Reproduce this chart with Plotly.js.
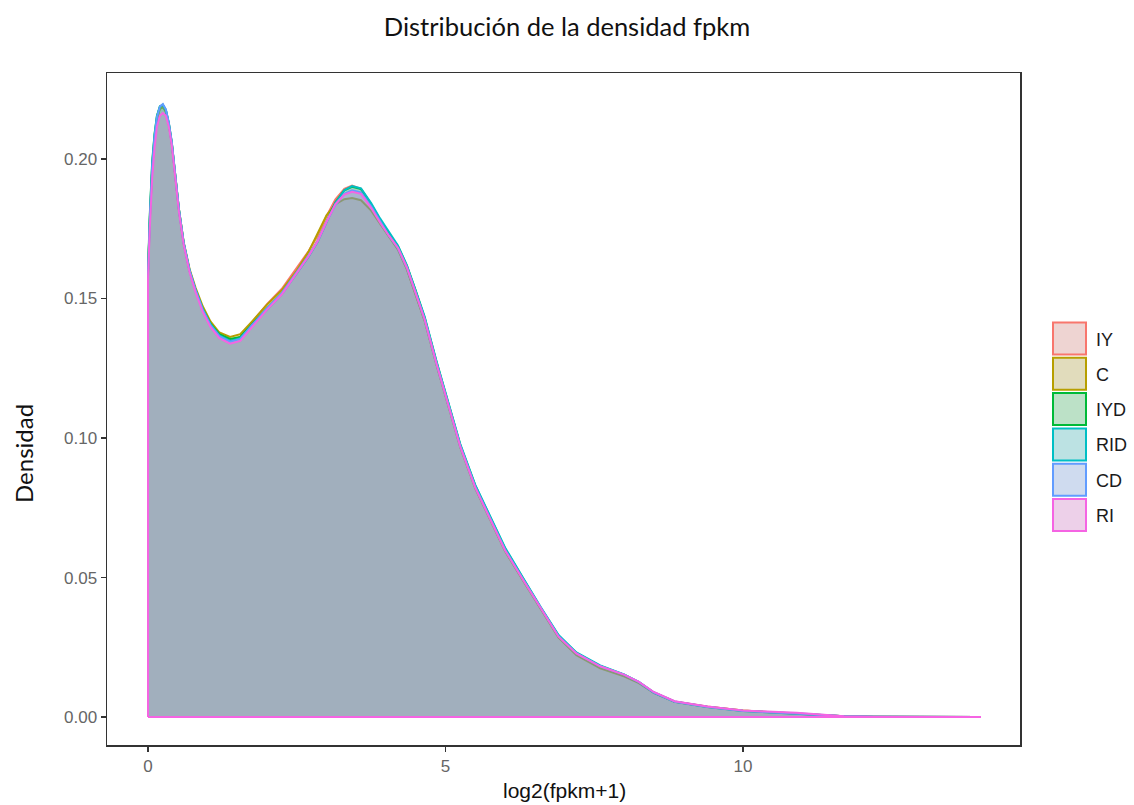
<!DOCTYPE html>
<html>
<head>
<meta charset="utf-8">
<script src="https://cdn.plot.ly/plotly-3.0.1.min.js"></script>
<style>
  html, body { margin: 0; padding: 0; background: #ffffff; }
  #chart { width: 1134px; height: 805px; }
</style>
</head>
<body>
<div id="chart"></div>
<script>
// Grid of log2(fpkm+1) values where each density curve is sampled
const xs = [0, 0.03, 0.07, 0.11, 0.15, 0.2, 0.25, 0.3, 0.35, 0.4, 0.46, 0.52, 0.6, 0.7, 0.8, 0.92,
  1.05, 1.2, 1.38, 1.55, 1.75, 2.0, 2.25, 2.5, 2.7, 2.85, 3.0, 3.15, 3.3, 3.43, 3.58, 3.75, 3.9,
  4.05, 4.2, 4.35, 4.5, 4.65, 4.85, 5.05, 5.25, 5.5, 5.75, 6.0, 6.3, 6.6, 6.9, 7.2, 7.6, 8.0,
  8.25, 8.5, 8.85, 9.4, 10.0, 10.5, 10.9, 11.3, 11.7, 12.2, 13.0, 14.0];

// Density of each sample
const densIY = [0.158,0.177,0.196,0.207,0.214,0.2182,0.219,0.2172,0.2125,0.2055,0.1945,0.1815,0.1695,0.1598,0.153,0.146,
  0.1407,0.1368,0.1348,0.1362,0.1415,0.148,0.1535,0.1608,0.167,0.1725,0.1795,0.1855,0.1893,0.1905,0.1893,0.1838,0.1778,
  0.1725,0.1678,0.1605,0.1515,0.142,0.1262,0.1112,0.0968,0.0822,0.0708,0.0598,0.0492,0.0388,0.0288,0.0226,0.0178,0.0148,
  0.0124,0.0088,0.0056,0.0038,0.0024,0.0017,0.0013,0.0007,0.0003,0.0001,0.00003,0];
const densC = [0.159,0.178,0.196,0.207,0.2145,0.218,0.2185,0.2168,0.2122,0.2055,0.1948,0.182,0.1702,0.1605,0.1538,0.1472,
  0.1418,0.1378,0.1362,0.1372,0.1418,0.1478,0.153,0.16,0.1668,0.1735,0.1798,0.1838,0.1856,0.186,0.1852,0.1815,0.1768,
  0.172,0.1675,0.1605,0.1515,0.142,0.1262,0.111,0.0965,0.082,0.0705,0.0595,0.049,0.0385,0.0285,0.0222,0.0175,0.0146,
  0.0122,0.0087,0.0055,0.0037,0.0024,0.0017,0.0013,0.0007,0.0003,0.0001,0.00003,0];
const densIYD = [0.160,0.180,0.199,0.209,0.2155,0.2188,0.2194,0.2175,0.2128,0.2058,0.1948,0.1818,0.1698,0.1598,0.153,0.1462,
  0.141,0.1372,0.1355,0.1362,0.1408,0.1465,0.1518,0.1592,0.1652,0.1705,0.1778,0.1845,0.1888,0.19,0.1892,0.1838,0.1782,
  0.1732,0.1688,0.1618,0.1528,0.1432,0.1272,0.112,0.0975,0.083,0.0715,0.0605,0.0498,0.0392,0.0292,0.023,0.0183,0.0152,
  0.0125,0.0088,0.0055,0.0036,0.0022,0.0016,0.0013,0.0007,0.0003,0.0001,0.00003,0];
const densRID = [0.159,0.179,0.198,0.2085,0.2152,0.2188,0.2194,0.2176,0.2129,0.2059,0.1949,0.1819,0.1699,0.1599,0.1531,0.1462,
  0.1408,0.1368,0.1348,0.1358,0.1405,0.1462,0.1516,0.159,0.165,0.1702,0.1775,0.1842,0.1888,0.1903,0.1895,0.1842,0.1787,
  0.1736,0.169,0.162,0.153,0.1434,0.1274,0.1122,0.0977,0.0832,0.0718,0.0608,0.05,0.0394,0.0294,0.0232,0.0185,0.0153,
  0.0125,0.0088,0.0055,0.0036,0.0022,0.0016,0.0013,0.0007,0.0003,0.0001,0.00003,0];
const densCD = [0.158,0.178,0.197,0.208,0.215,0.2188,0.2197,0.2178,0.213,0.206,0.195,0.182,0.170,0.160,0.153,0.146,
  0.1405,0.1365,0.1345,0.1355,0.1405,0.1465,0.152,0.1595,0.1655,0.1705,0.1775,0.1835,0.1875,0.1888,0.1880,0.1830,0.1775,
  0.1725,0.1680,0.1610,0.1520,0.1425,0.1265,0.1115,0.0970,0.0825,0.0710,0.0600,0.0495,0.0390,0.0290,0.0228,0.0182,0.0152,
  0.0126,0.0089,0.0056,0.0037,0.0023,0.0017,0.0014,0.0008,0.0003,0.0001,0.00003,0];
const densRI = [0.157,0.175,0.193,0.204,0.2115,0.2155,0.2165,0.2155,0.2115,0.2048,0.1938,0.181,0.1692,0.1592,0.1522,0.1452,
  0.1398,0.1358,0.1338,0.1348,0.1398,0.146,0.1515,0.159,0.1652,0.1705,0.1775,0.1838,0.1872,0.1882,0.1875,0.1825,0.1772,
  0.1725,0.1682,0.1612,0.1522,0.1425,0.1265,0.1113,0.0968,0.0822,0.0708,0.0598,0.0493,0.0388,0.0288,0.0228,0.0182,0.0152,
  0.0126,0.009,0.0057,0.0038,0.0024,0.0019,0.0016,0.0009,0.0003,0.0001,0.00003,0];

const sampleNames = ['IY', 'C', 'IYD', 'RID', 'CD', 'RI'];
const sampleDens = [densIY, densC, densIYD, densRID, densCD, densRI];
const sampleColors = ['#F8766D', '#B79F00', '#00BA38', '#00BFC4', '#619CFF', '#F564E3'];

const xTicks = [0, 5, 10];
const yTicks = [0, 0.05, 0.10, 0.15, 0.20];

function rgba(hex, a) {
  const n = parseInt(hex.slice(1), 16);
  return 'rgba(' + (n >> 16) + ',' + ((n >> 8) & 255) + ',' + (n & 255) + ',' + a + ')';
}

// Each density is drawn as a closed polygon: baseline, the curve, and back to the origin
const traces = sampleNames.map((name, i) => ({
  type: 'scatter',
  mode: 'lines',
  name: name,
  x: [0].concat(xs, [0]),
  y: [0].concat(sampleDens[i], [0]),
  fill: 'toself',
  fillcolor: rgba(sampleColors[i], 0.2),
  line: { color: sampleColors[i], width: 2 },
  hoverinfo: 'skip',
  showlegend: false
}));

// Plot area in pixels (used for the hand-drawn legend and axis titles)
const W = 1134, H = 805;
const M = { l: 107, r: 114, t: 73, b: 60 };
const PW = W - M.l - M.r, PH = H - M.t - M.b;
const px2x = p => (p - M.l) / PW;
const py2y = p => (H - M.b - p) / PH;

const shapes = [];
const annotations = [];
sampleNames.forEach((name, i) => {
  const top = 322.5 + i * 35.3;
  const box = { type: 'rect', xref: 'paper', yref: 'paper',
    x0: px2x(1053), x1: px2x(1086), y0: py2y(top + 32), y1: py2y(top) };
  shapes.push(Object.assign({}, box, { fillcolor: '#ebebeb', line: { width: 0 }, layer: 'above' }));
  shapes.push(Object.assign({}, box, { fillcolor: rgba(sampleColors[i], 0.2),
    line: { color: sampleColors[i], width: 2 }, layer: 'above' }));
  annotations.push({
    xref: 'paper', yref: 'paper', x: px2x(1094), y: py2y(top + 17),
    xanchor: 'left', yanchor: 'middle', showarrow: false, text: name,
    font: { family: 'Liberation Sans, Arial, sans-serif', size: 18, color: '#1a1a1a' }
  });
});

// Axis titles
annotations.push({
  xref: 'paper', yref: 'paper', x: px2x(564), y: py2y(790),
  xanchor: 'center', yanchor: 'middle', showarrow: false, text: 'log2(fpkm+1)',
  font: { family: 'Liberation Sans, Arial, sans-serif', size: 21, color: '#111111' }
});
annotations.push({
  xref: 'paper', yref: 'paper', x: px2x(23), y: py2y(454),
  xanchor: 'center', yanchor: 'middle', showarrow: false, textangle: -90, text: 'Densidad',
  font: { family: 'Lato, Open Sans, sans-serif', size: 24, color: '#111111' }
});

const axisCommon = {
  showgrid: false, zeroline: false,
  showline: true, mirror: true, linecolor: '#333333', linewidth: 1.5,
  ticks: 'outside', ticklen: 5, tickwidth: 1.5, tickcolor: '#333333',
  tickfont: { family: 'Liberation Sans, Arial, sans-serif', size: 17, color: '#666666' }
};

const layout = {
  width: W, height: H,
  margin: M,
  paper_bgcolor: '#ffffff',
  plot_bgcolor: '#ffffff',
  showlegend: false,
  title: {
    text: 'Distribución de la densidad fpkm',
    x: 0.5, xref: 'container', xanchor: 'center',
    y: 1 - 27 / H, yref: 'container', yanchor: 'middle',
    font: { family: 'Lato, Open Sans, sans-serif', size: 25.5, color: '#111111' }
  },
  xaxis: Object.assign({}, axisCommon, {
    range: [-0.689, 14.655],
    tickvals: xTicks, ticktext: xTicks.map(String)
  }),
  yaxis: Object.assign({}, axisCommon, {
    range: [-0.0100, 0.2308],
    tickvals: yTicks, ticktext: yTicks.map(v => v.toFixed(2))
  }),
  shapes: shapes,
  annotations: annotations
};

Plotly.newPlot('chart', traces, layout, { displayModeBar: false, staticPlot: true });
</script>
</body>
</html>
